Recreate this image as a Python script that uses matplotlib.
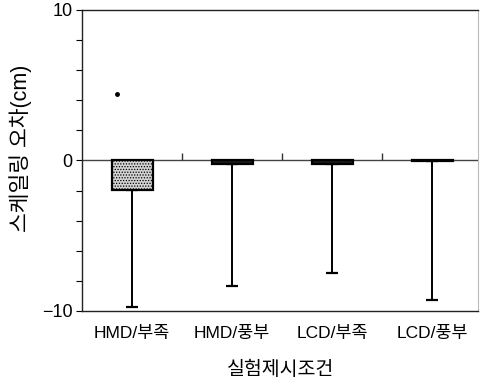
import matplotlib
matplotlib.use("Agg")
import matplotlib.pyplot as plt
from matplotlib.ticker import MultipleLocator
import numpy as np

plt.rcParams['font.family'] = ['Liberation Sans', 'Noto Sans CJK KR', 'DejaVu Sans']
plt.rcParams['axes.unicode_minus'] = True
plt.rcParams['hatch.color'] = '#9a9a9a'
plt.rcParams['hatch.linewidth'] = 0.6

# Scaling error per presentation condition
categories = ['HMD/부족', 'HMD/풍부', 'LCD/부족', 'LCD/풍부']
mean_error = [-1.95, -0.22, -0.22, -0.05]
lower_err = [7.8, 8.1, 7.27, 9.22]          # length of the downward error bar
outlier_pos = [-0.15]                       # category offset of the stray point
outlier_val = [4.42]

face_colors = ['#d2d2d2', '#1a1a1a', '#1a1a1a', '#1a1a1a']
y_ticks = [-10, 0, 10]

fig = plt.figure(figsize=(4.8, 3.82), dpi=100)
ax = fig.add_axes([0.171, 0.186, 0.825, 0.788])

x = np.arange(len(categories))
bars = ax.bar(x, mean_error, width=0.41, color=face_colors, edgecolor='black',
              linewidth=1.6, zorder=3)
bars[0].set_hatch('......')

ax.errorbar(x, mean_error, yerr=[lower_err, [0] * len(x)], fmt='none',
            ecolor='black', elinewidth=1.4, capsize=4.5, capthick=1.6, zorder=2)

ax.plot(outlier_pos, outlier_val, 'o', color='black', markersize=2.5, zorder=4)

# zero baseline with small upward ticks between categories
ax.axhline(0, color='#444444', linewidth=1.0, zorder=1)
boundaries = x[:-1] + 0.5
ax.plot(boundaries, np.zeros_like(boundaries), linestyle='none', marker=2,
        markersize=5, markeredgewidth=1.0, color='#333333', zorder=1)

ax.set_xlim(-0.5, 3.46)
ax.set_ylim(-10, 10)
ax.set_yticks(y_ticks)
ax.yaxis.set_minor_locator(MultipleLocator(2))
ax.tick_params(axis='y', which='both', direction='out', length=4, width=0.8,
               labelsize=13, pad=3)
ax.set_xticks(x)
ax.set_xticklabels(categories, fontsize=12.5)
ax.tick_params(axis='x', length=0, pad=11)

for side in ['top', 'bottom', 'left']:
    ax.spines[side].set_color('#222222')
    ax.spines[side].set_linewidth(1.0)
ax.spines['right'].set_color('#bbbbbb')
ax.spines['right'].set_linewidth(0.8)

ax.set_xlabel('실험제시조건', fontsize=14, labelpad=14)
ax.set_ylabel('스케일링 오차(cm)', fontsize=15.5)
ax.yaxis.set_label_coords(-0.127, 0.54)

fig.savefig('out.png', dpi=100)
